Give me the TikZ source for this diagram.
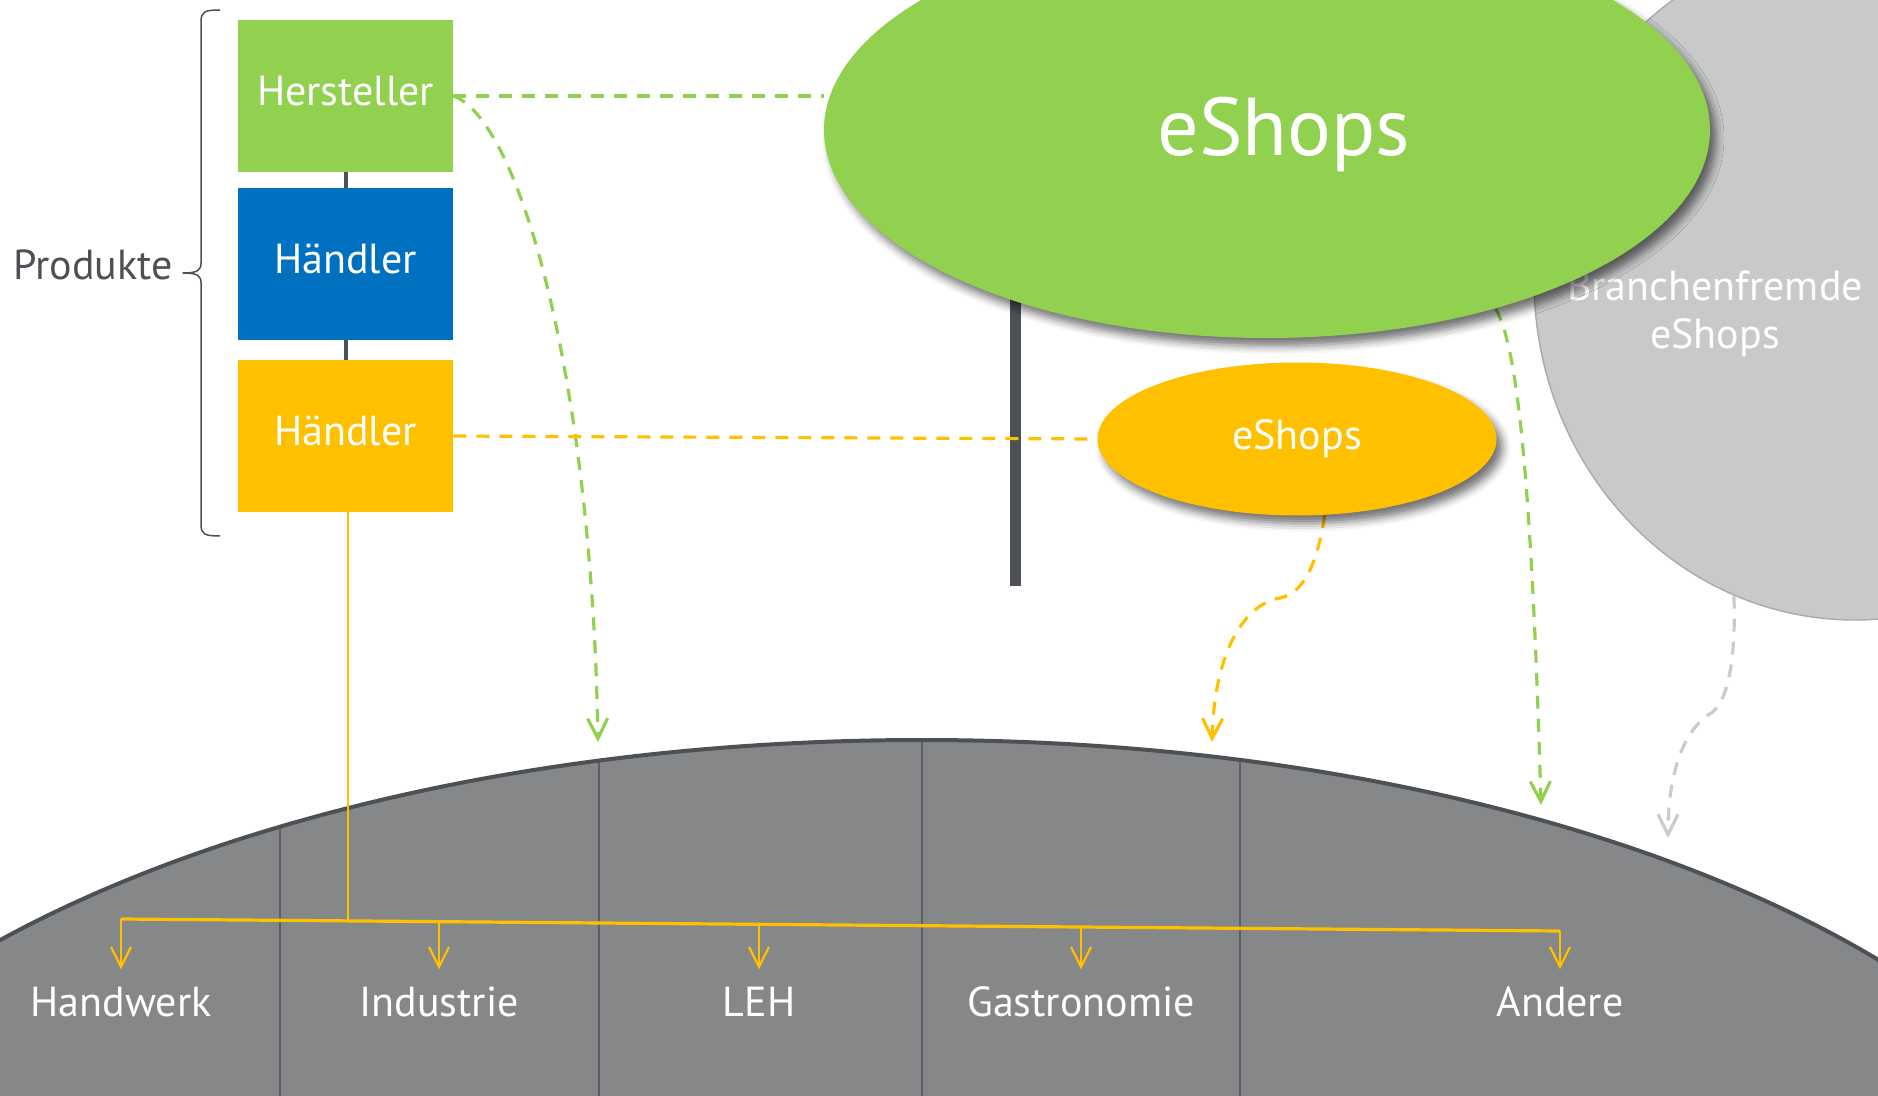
\documentclass[tikz,border=0pt]{standalone}
\usepackage{fontspec}
\setmainfont{PT Sans}
\usetikzlibrary{arrows.meta,shapes.geometric,shadows.blur,calc}
\definecolor{cgreen}{HTML}{92D050}
\definecolor{cblue}{HTML}{0070C0}
\definecolor{cyellow}{HTML}{FFC000}
\definecolor{clgray}{HTML}{C8C9CB}
\definecolor{cbase}{HTML}{868789}
\definecolor{cdark}{HTML}{4D5054}
\definecolor{cdiv}{HTML}{5C5E61}
\definecolor{cdash}{HTML}{CBCBCB}
\definecolor{cring}{HTML}{A8A9AB}
\pgfdeclarelayer{back}
\pgfdeclarelayer{conn}
\pgfsetlayers{back,conn,main}
\tikzset{
  stdbox/.style={rectangle, minimum width=107.5pt, minimum height=76pt, inner sep=0pt,
    text=white, font=\fontsize{21}{25}\selectfont, text height=15.1pt, text depth=5.9pt},
  lbl/.style={text=white, font=\fontsize{21}{25}\selectfont, inner xsep=0pt, inner ysep=8pt,
    text height=15.1pt, text depth=5.9pt, anchor=base},
  eshop/.style={ellipse, inner sep=0pt, text=white,
    blur shadow={shadow xshift=3pt, shadow yshift=-4pt, shadow blur radius=4pt, shadow opacity=55}},
  vtip/.style={-{Straight Barb[length=10pt,width=10pt]}},
  gdash/.style={cgreen, line width=1.6pt, dash pattern=on 6.5pt off 5pt},
  ydash/.style={cyellow, line width=1.6pt, dash pattern=on 6.5pt off 5pt},
  graydash/.style={cdash, line width=1.6pt, dash pattern=on 6.5pt off 5pt},
  yline/.style={cyellow, line width=1.1pt},
  darkline/.style={cdark, line width=2pt},
}
\begin{document}
\begin{tikzpicture}[x=0.5pt,y=-0.5pt]
\useasboundingbox (0,0) rectangle (1878,1096);

% ---------- main layer: boxes, ellipses, labels ----------
\node[stdbox, fill=cgreen] (hs) at (345.5,96) {Hersteller};
\node[stdbox, fill=cblue] (h1) at (345.5,264) {Händler};
\node[stdbox, fill=cyellow] (h2) at (345.5,436) {Händler};

\node[text=cdark, font=\fontsize{21}{25}\selectfont, inner sep=0pt, anchor=base east] (pr) at (173,280) {Produkte};

\node[eshop, fill=cgreen, minimum width=443pt, minimum height=208pt] (ge) at (1267,130) {};
\node[text=white, font=\fontsize{41}{49}\selectfont, inner sep=0pt, anchor=base] (get) at (1284,156) {eShops};
\node[eshop, fill=cyellow, minimum width=199.5pt, minimum height=76.5pt,
      font=\fontsize{21}{25}\selectfont] (ye) at (1297,439) {eShops};

\node[lbl] (l1) at (121,1016) {Handwerk};
\node[lbl] (l2) at (439,1016) {Industrie};
\node[lbl] (l3) at (759,1016) {LEH};
\node[lbl] (l4) at (1081,1016) {Gastronomie};
\node[lbl] (l5) at (1560,1016) {Andere};

% ---------- back layer ----------
\begin{pgfonlayer}{back}
\fill[cbase] (922,1320) ellipse [x radius=1220, y radius=580];
\begin{scope}
  \clip (922,1320) ellipse [x radius=1220, y radius=580];
  \foreach \xx in {280,599,922,1240} \draw[cdiv, line width=0.7pt] (\xx,700) -- (\xx,1100);
\end{scope}
\draw[cdark, line width=2pt] (922,1320) ellipse [x radius=1220, y radius=580];

\node[ellipse, fill=clgray, draw=cring, line width=0.7pt, minimum width=321pt,
      minimum height=340pt, inner sep=0pt] (bf) at (1855,280) {};
\node[text=white, font=\fontsize{21}{24}\selectfont, align=center, inner sep=0pt] (bft) at (1715,314) {Branchenfremde\\eShops};

\fill[cdark] (1009.5,250) rectangle (1020.5,586);

% brace
\coordinate (bt) at (220,10);
\coordinate (bb) at (220,536);
\coordinate (bm) at (183,273);
\draw[cdark, line width=0.75pt, line join=round]
  (bt) .. controls (204,10) and (201,12) .. (201,22) -- (201,263)
  .. controls (201,270) and (198,273) .. (bm)
  .. controls (198,273) and (201,276) .. (201,283) -- (201,524)
  .. controls (201,534) and (204,536) .. (bb);
\end{pgfonlayer}

% ---------- connectors ----------
\begin{pgfonlayer}{conn}
\draw[darkline] (hs.south) -- (h1.north);
\draw[darkline] (h1.south) -- (h2.north);

\coordinate (bl) at (121,919);
\coordinate (br) at (1560,931);
\coordinate (bj) at ($(bl)!0.1577!(br)$);
\coordinate (b2) at ($(bl)!0.22099!(br)$);
\coordinate (b3) at ($(bl)!0.44336!(br)$);
\coordinate (b4) at ($(bl)!0.66713!(br)$);
\draw[cyellow, line width=1.6pt] (bl) -- (br);
\draw[yline] (h2.south -| bj) -- (bj);
\draw[yline, vtip] (bl) -- (l1.north);
\draw[yline, vtip] (b2) -- (b2 |- l2.north);
\draw[yline, vtip] (b3) -- (b3 |- l3.north);
\draw[yline, vtip] (b4) -- (b4 |- l4.north);
\draw[yline, vtip] (br) -- (l5.north);

\coordinate (t1) at (598,742);
\coordinate (t2) at (1212,742);
\coordinate (t3) at (1541,805);
\coordinate (t4) at (1668,838);

\draw[gdash] (hs.east) -- (hs.east -| ge.west);
\draw[gdash, vtip] (hs.east) .. controls (520,120) and (592,380) .. (t1);
\draw[ydash] (h2.east) -- (ye.west);
\draw[ydash, vtip] (ye.-70) .. controls (1318,560) and (1305,593) .. (1280,598)
   .. controls (1240,605) and (1214,660) .. (t2);
\draw[gdash, vtip] (ge.-38) .. controls (1512,338) and (1530,420) .. (t3);
\draw[graydash, vtip] (bf.249.4) .. controls (1736,650) and (1730,705) .. (1708,715)
   .. controls (1680,735) and (1668,780) .. (t4);
\end{pgfonlayer}
\end{tikzpicture}
\end{document}
